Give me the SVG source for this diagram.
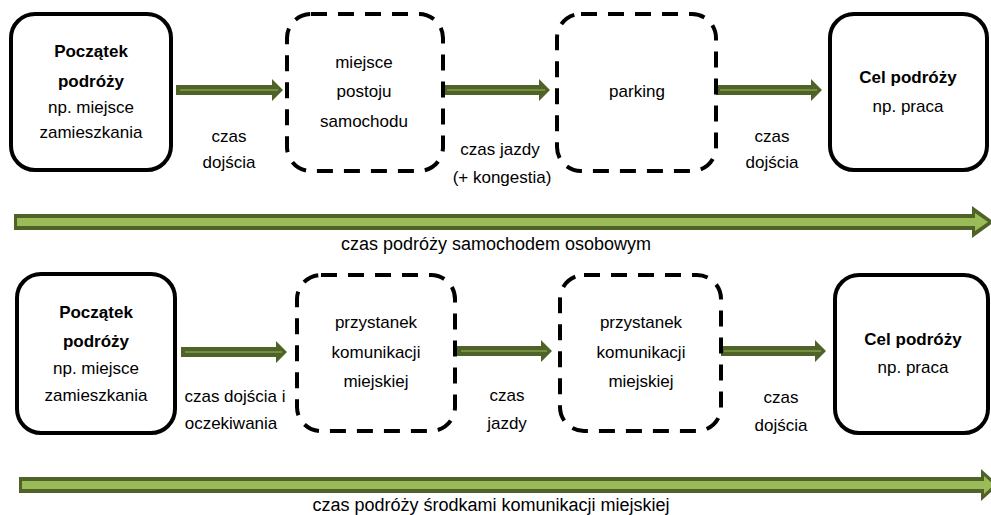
<svg xmlns="http://www.w3.org/2000/svg" width="991" height="515" viewBox="0 0 991 515">
<style>
.box{fill:#fff;stroke:#000;stroke-width:4}
.dash{fill:#fff;stroke:#000;stroke-width:4;stroke-dasharray:16 11}
text{font-family:"Liberation Sans",Arial,sans-serif;font-size:17px;fill:#000;text-anchor:middle}
.b{font-weight:bold}
.big{font-size:18px}
.arr{fill:#4f6228}
.arrl{stroke:#9bbb59;stroke-width:1;fill:none}
.bigin{fill:#9bbb59}
</style>
<rect width="991" height="515" fill="#fff"/>
<g id="connectors">
  <polygon class="arr" points="176,85 272,85 272,79 283,90 272,101 272,95 176,95"/>
  <line class="arrl" x1="180" y1="90" x2="278" y2="90"/>
  <polygon class="arr" points="443,85 539,85 539,79 550,90 539,101 539,95 443,95"/>
  <line class="arrl" x1="447" y1="90" x2="545" y2="90"/>
  <polygon class="arr" points="716,85 811,85 811,79 822,90 811,101 811,95 716,95"/>
  <line class="arrl" x1="720" y1="90" x2="817" y2="90"/>
  <polygon class="arr" points="181,347 276,347 276,341 287,352 276,363 276,357 181,357"/>
  <line class="arrl" x1="185" y1="352" x2="282" y2="352"/>
  <polygon class="arr" points="457,346 541,346 541,340 552,351 541,362 541,356 457,356"/>
  <line class="arrl" x1="461" y1="351" x2="547" y2="351"/>
  <polygon class="arr" points="720,346 815,346 815,340 826,351 815,362 815,356 720,356"/>
  <line class="arrl" x1="724" y1="351" x2="821" y2="351"/>
  <polygon class="arr" points="14,214 972,214 972,206 994,222 972,238 972,230 14,230"/>
  <polygon class="bigin" points="17,218 975,218 975,213 988,222 975,231 975,226 17,226"/>
  <polygon class="arr" points="19,477 981,477 981,469 999,485 981,501 981,493 19,493"/>
  <polygon class="bigin" points="22,481 984,481 984,476 994,485 984,494 984,489 22,489"/>
</g>
<g id="start1">
  <rect class="box" x="11" y="14" width="160" height="156" rx="24"/>
  <text class="b" x="91" y="57">Początek</text>
  <text class="b" x="91" y="87">podróży</text>
  <text x="91" y="113">np. miejsce</text>
  <text x="91" y="138">zamieszkania</text>
</g>
<g id="parkspot">
  <rect class="dash" x="287" y="14" width="156" height="157" rx="24"/>
  <text x="364" y="68">miejsce</text>
  <text x="364" y="97">postoju</text>
  <text x="364" y="127">samochodu</text>
</g>
<g id="parking">
  <rect class="dash" x="557" y="14" width="159" height="157" rx="24"/>
  <text x="637" y="97">parking</text>
</g>
<g id="dest1">
  <rect class="box" x="830" y="14" width="157" height="156" rx="24"/>
  <text class="b" x="908" y="83">Cel podróży</text>
  <text x="908" y="112">np. praca</text>
</g>
<g id="labels1">
  <text x="229" y="142">czas</text>
  <text x="229" y="168">dojścia</text>
  <text x="500" y="155">czas jazdy</text>
  <text x="502" y="183">(+ kongestia)</text>
  <text x="772" y="142">czas</text>
  <text x="772" y="168">dojścia</text>
  <text class="big" x="496" y="250">czas podróży samochodem osobowym</text>
</g>
<g id="start2">
  <rect class="box" x="17" y="274" width="158" height="159" rx="24"/>
  <text class="b" x="96" y="318">Początek</text>
  <text class="b" x="96" y="347">podróży</text>
  <text x="96" y="374">np. miejsce</text>
  <text x="96" y="401">zamieszkania</text>
</g>
<g id="stop1">
  <rect class="dash" x="297" y="275" width="158" height="156" rx="24"/>
  <text x="376" y="328">przystanek</text>
  <text x="376" y="358">komunikacji</text>
  <text x="376" y="387">miejskiej</text>
</g>
<g id="stop2">
  <rect class="dash" x="560" y="275" width="161" height="156" rx="24"/>
  <text x="641" y="328">przystanek</text>
  <text x="641" y="358">komunikacji</text>
  <text x="641" y="387">miejskiej</text>
</g>
<g id="dest2">
  <rect class="box" x="835" y="275" width="153" height="158" rx="24"/>
  <text class="b" x="913" y="345">Cel podróży</text>
  <text x="913" y="373">np. praca</text>
</g>
<g id="labels2">
  <text x="235" y="402">czas dojścia i</text>
  <text x="231" y="429">oczekiwania</text>
  <text x="507" y="401">czas</text>
  <text x="507" y="429">jazdy</text>
  <text x="781" y="403">czas</text>
  <text x="781" y="431">dojścia</text>
  <text class="big" x="491" y="511">czas podróży środkami komunikacji miejskiej</text>
</g>
</svg>
